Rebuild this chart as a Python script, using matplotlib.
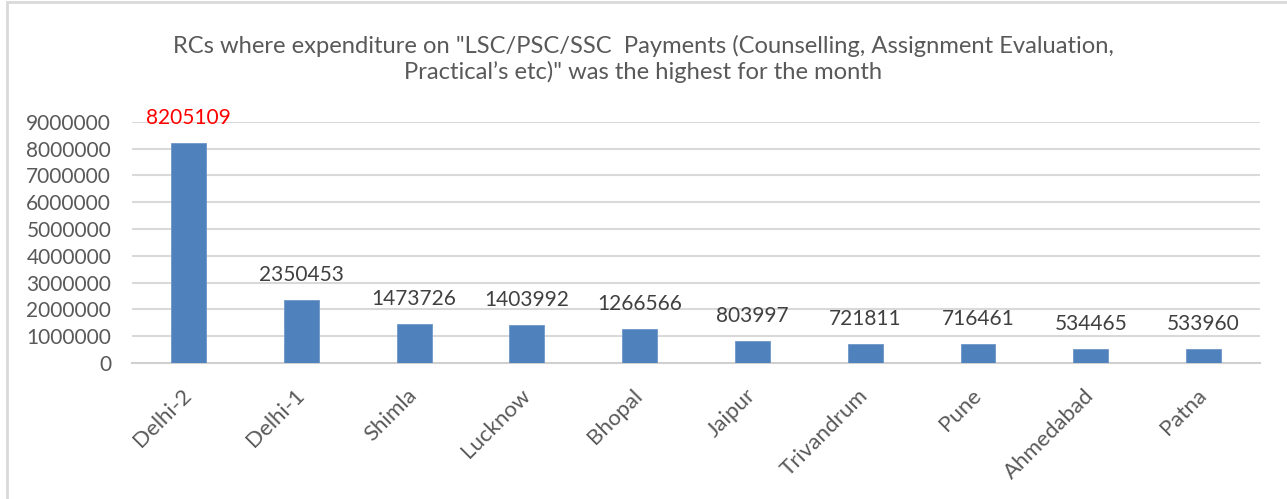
import matplotlib.pyplot as plt
from matplotlib.patches import Rectangle

# data
regions = ['Delhi-2', 'Delhi-1', 'Shimla', 'Lucknow', 'Bhopal', 'Jaipur',
           'Trivandrum', 'Pune', 'Ahmedabad', 'Patna']
amounts = [8205109, 2350453, 1473726, 1403992, 1266566, 803997,
           721811, 716461, 534465, 533960]
yticks = list(range(0, 9000001, 1000000))

title = ('RCs where expenditure on "LSC/PSC/SSC  Payments (Counselling, Assignment Evaluation,\n'
         'Practical\u2019s etc)" was the highest for the month')

plt.rcParams['font.family'] = ['Lato', 'DejaVu Sans']

fig = plt.figure(figsize=(12.87, 4.99), dpi=100)
ax = fig.add_axes([0.1026, 0.2725, 0.8764, 0.4836])

x = range(len(regions))
bars = ax.bar(x, amounts, width=0.31, color='#4f81bd', edgecolor='#6f97c9',
              linewidth=0.6, zorder=3)

# value labels, the top one in red
for i, (b, v) in enumerate(zip(bars, amounts)):
    ax.annotate(str(v), (b.get_x() + b.get_width() / 2, v),
                xytext=(0, 18), textcoords='offset points',
                ha='center', va='center', fontsize=15,
                color='#ff0000' if i == 0 else '#404040')

ax.set_xlim(-0.5, len(regions) - 0.5)
ax.set_ylim(0, 9000000)
ax.set_yticks(yticks)
ax.set_yticklabels([str(t) for t in yticks])
ax.yaxis.grid(True, color='#d9d9d9', linewidth=1.5, zorder=0)
ax.set_axisbelow(True)

ax.set_xticks(list(x))
ax.set_xticklabels(regions, rotation=45, ha='right', va='center',
                   rotation_mode='anchor')
ax.tick_params(axis='x', length=0, pad=21, labelsize=16, labelcolor='#595959')
ax.tick_params(axis='y', length=0, pad=15, labelsize=15, labelcolor='#595959')

for s in ['top', 'right', 'left']:
    ax.spines[s].set_visible(False)
ax.spines['bottom'].set_color('#d0d0d0')
ax.spines['bottom'].set_linewidth(1.5)

fig.text(0.5, 0.882, title, ha='center', va='center', fontsize=17.1,
         color='#595959', linespacing=1.25)

# chart border
fig.patches.append(Rectangle((0.0055, -0.05), 1.1, 1.045, transform=fig.transFigure,
                             fill=False, edgecolor='#d9d9d9', linewidth=2))

fig.savefig('out.png', dpi=100)
